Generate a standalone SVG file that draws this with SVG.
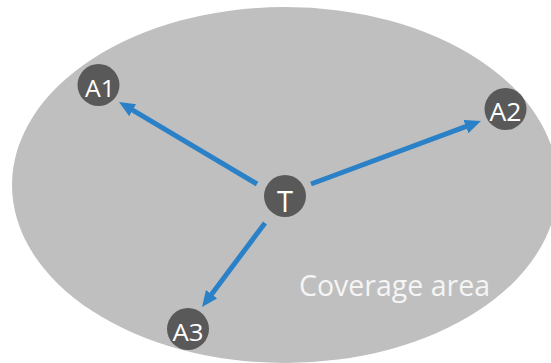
<svg xmlns="http://www.w3.org/2000/svg" width="551" height="363" viewBox="0 0 551 363">
<style>
.node{fill:#595959}
.lbl{fill:#ffffff;font-family:"Open Sans","Liberation Sans",Arial,sans-serif;text-anchor:middle}
.conn{stroke:#2A81C7;stroke-width:5;fill:none}
</style>
<defs>
<marker id="ah" markerUnits="userSpaceOnUse" markerWidth="16" markerHeight="16" refX="4" refY="7" orient="auto">
<path d="M0,0 L16,7 L0,14 z" fill="#2A81C7"/>
</marker>
</defs>
<rect width="551" height="363" fill="#ffffff"/>
<g id="coverage">
<ellipse cx="285" cy="185" rx="273" ry="178" fill="#BFBFBF"/>
<text x="394.5" y="296" font-family="Open Sans, Liberation Sans, Arial, sans-serif" font-size="29" fill="#F5F5F5" text-anchor="middle" textLength="191" lengthAdjust="spacingAndGlyphs">Coverage area</text>
</g>
<g id="connectors">
<line class="conn" x1="257" y1="184" x2="129.3" y2="108.1" marker-end="url(#ah)"/>
<line class="conn" x1="311" y1="184" x2="469.7" y2="125.2" marker-end="url(#ah)"/>
<line class="conn" x1="265" y1="223" x2="209.2" y2="297.4" marker-end="url(#ah)"/>
</g>
<g id="T">
<circle class="node" cx="285" cy="196" r="21"/>
<text class="lbl" x="285" y="212" font-size="29">T</text>
</g>
<g id="A1">
<circle class="node" cx="98.5" cy="85" r="21"/>
<text class="lbl" x="100" y="96.5" font-size="24" textLength="30" lengthAdjust="spacingAndGlyphs">A1</text>
</g>
<g id="A2">
<circle class="node" cx="505.5" cy="109" r="21"/>
<text class="lbl" x="505.5" y="121" font-size="25" textLength="32" lengthAdjust="spacingAndGlyphs">A2</text>
</g>
<g id="A3">
<circle class="node" cx="188" cy="329" r="21"/>
<text class="lbl" x="188" y="340.5" font-size="24" textLength="31" lengthAdjust="spacingAndGlyphs">A3</text>
</g>
</svg>
